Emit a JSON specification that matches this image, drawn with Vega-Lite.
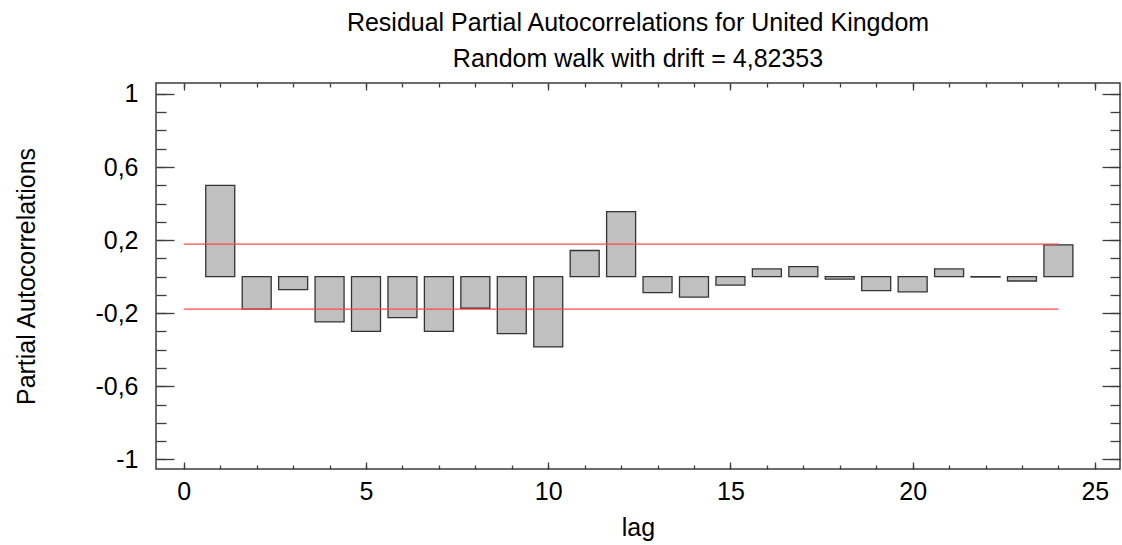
{
  "$schema": "https://vega.github.io/schema/vega-lite/v6.json",
  "width": 964,
  "height": 386,
  "autosize": {"type": "none"},
  "padding": {"left": 156, "top": 83, "right": 2, "bottom": 76},
  "config": {
    "view": {"stroke": "#3c3c3c", "strokeWidth": 1.5},
    "font": "Liberation Sans",
    "axis": {
      "domain": false,
      "grid": false,
      "labelFont": "Liberation Sans",
      "titleFont": "Liberation Sans",
      "labelColor": "#000000",
      "titleColor": "#000000",
      "tickColor": "#3c3c3c",
      "tickWidth": 1.3,
      "titleFontWeight": "normal"
    }
  },
  "title": {
    "text": "Residual Partial Autocorrelations for United Kingdom",
    "subtitle": "Random walk with drift = 4,82353",
    "fontSize": 25,
    "subtitleFontSize": 25,
    "fontWeight": "normal",
    "font": "Liberation Sans",
    "subtitleFont": "Liberation Sans",
    "color": "#000000",
    "subtitleColor": "#000000",
    "anchor": "middle",
    "frame": "group",
    "offset": 10,
    "subtitlePadding": 11
  },
  "datasets": {
    "pacf": [
      {"lag": 1, "pacf": 0.5},
      {"lag": 2, "pacf": -0.178},
      {"lag": 3, "pacf": -0.071},
      {"lag": 4, "pacf": -0.248},
      {"lag": 5, "pacf": -0.3},
      {"lag": 6, "pacf": -0.224},
      {"lag": 7, "pacf": -0.3},
      {"lag": 8, "pacf": -0.173},
      {"lag": 9, "pacf": -0.312},
      {"lag": 10, "pacf": -0.385},
      {"lag": 11, "pacf": 0.143},
      {"lag": 12, "pacf": 0.356},
      {"lag": 13, "pacf": -0.088},
      {"lag": 14, "pacf": -0.112},
      {"lag": 15, "pacf": -0.046},
      {"lag": 16, "pacf": 0.042},
      {"lag": 17, "pacf": 0.055},
      {"lag": 18, "pacf": -0.014},
      {"lag": 19, "pacf": -0.077},
      {"lag": 20, "pacf": -0.083},
      {"lag": 21, "pacf": 0.042},
      {"lag": 22, "pacf": -0.002},
      {"lag": 23, "pacf": -0.024},
      {"lag": 24, "pacf": 0.174}
    ],
    "limits": [
      {"from": 0, "to": 24, "limit": 0.178},
      {"from": 0, "to": 24, "limit": -0.178}
    ]
  },
  "layer": [
    {
      "data": {"name": "pacf"},
      "mark": {"type": "bar", "width": 29, "fill": "#c0c0c0", "stroke": "#333333", "strokeWidth": 1.3},
      "encoding": {
        "x": {
          "field": "lag", "type": "quantitative",
          "scale": {"domain": [-0.763, 25.69], "nice": false, "zero": false, "padding": 0},
          "axis": {"orient": "bottom", "values": [0, 5, 10, 15, 20, 25], "tickSize": -7, "labelFontSize": 25, "labelPadding": 17, "title": "lag", "titleFontSize": 25, "titlePadding": 11}
        },
        "y": {
          "field": "pacf", "type": "quantitative",
          "scale": {"domain": [-1.053, 1.06], "nice": false, "zero": false, "padding": 0},
          "axis": {"orient": "left", "values": [-1, -0.6, -0.2, 0.2, 0.6, 1], "tickSize": -18, "labelPadding": 36, "labelFontSize": 25,
            "labelExpr": "(datum.value < 0 ? '-' : '') + replace(format(abs(datum.value), '~g'), '.', ',')",
            "title": "Partial Autocorrelations", "titleFontSize": 25, "titlePadding": 55}
        },
        "y2": {"datum": 0}
      }
    },
    {
      "data": {"name": "pacf"},
      "mark": {"type": "bar", "width": 29, "opacity": 0},
      "encoding": {
        "x": {"field": "lag", "type": "quantitative", "scale": {"domain": [-0.763, 25.69], "nice": false, "zero": false, "padding": 0}, "axis": {"orient": "bottom", "values": [0,1,2,3,4,5,6,7,8,9,10,11,12,13,14,15,16,17,18,19,20,21,22,23,24,25], "tickSize": -4, "labels": false, "title": null}},
        "y": {"field": "pacf", "type": "quantitative", "scale": {"domain": [-1.053, 1.06], "nice": false, "zero": false, "padding": 0}, "axis": {"orient": "left", "values": [-1,-0.9,-0.8,-0.7,-0.6,-0.5,-0.4,-0.3,-0.2,-0.1,0,0.1,0.2,0.3,0.4,0.5,0.6,0.7,0.8,0.9,1], "tickSize": -10, "labels": false, "title": null}},
        "y2": {"datum": 0}
      }
    },
    {
      "data": {"name": "pacf"},
      "mark": {"type": "bar", "width": 29, "opacity": 0},
      "encoding": {
        "x": {"field": "lag", "type": "quantitative", "scale": {"domain": [-0.763, 25.69], "nice": false, "zero": false, "padding": 0}, "axis": {"orient": "top", "values": [0, 5, 10, 15, 20, 25], "tickSize": -7, "labels": false, "title": null}},
        "y": {"field": "pacf", "type": "quantitative", "scale": {"domain": [-1.053, 1.06], "nice": false, "zero": false, "padding": 0}, "axis": {"orient": "right", "values": [-1, -0.6, -0.2, 0.2, 0.6, 1], "tickSize": -18, "labels": false, "title": null}},
        "y2": {"datum": 0}
      }
    },
    {
      "data": {"name": "pacf"},
      "mark": {"type": "bar", "width": 29, "opacity": 0},
      "encoding": {
        "x": {"field": "lag", "type": "quantitative", "scale": {"domain": [-0.763, 25.69], "nice": false, "zero": false, "padding": 0}, "axis": {"orient": "top", "values": [0,1,2,3,4,5,6,7,8,9,10,11,12,13,14,15,16,17,18,19,20,21,22,23,24,25], "tickSize": -4, "labels": false, "title": null}},
        "y": {"field": "pacf", "type": "quantitative", "scale": {"domain": [-1.053, 1.06], "nice": false, "zero": false, "padding": 0}, "axis": {"orient": "right", "values": [-1,-0.9,-0.8,-0.7,-0.6,-0.5,-0.4,-0.3,-0.2,-0.1,0,0.1,0.2,0.3,0.4,0.5,0.6,0.7,0.8,0.9,1], "tickSize": -10, "labels": false, "title": null}},
        "y2": {"datum": 0}
      }
    },
    {
      "data": {"name": "limits"},
      "mark": {"type": "rule", "color": "#ff4a4a", "strokeWidth": 1.3},
      "encoding": {
        "x": {"field": "from", "type": "quantitative", "axis": null},
        "x2": {"field": "to"},
        "y": {"field": "limit", "type": "quantitative", "axis": null}
      }
    }
  ],
  "resolve": {"axis": {"x": "independent", "y": "independent"}}
}
